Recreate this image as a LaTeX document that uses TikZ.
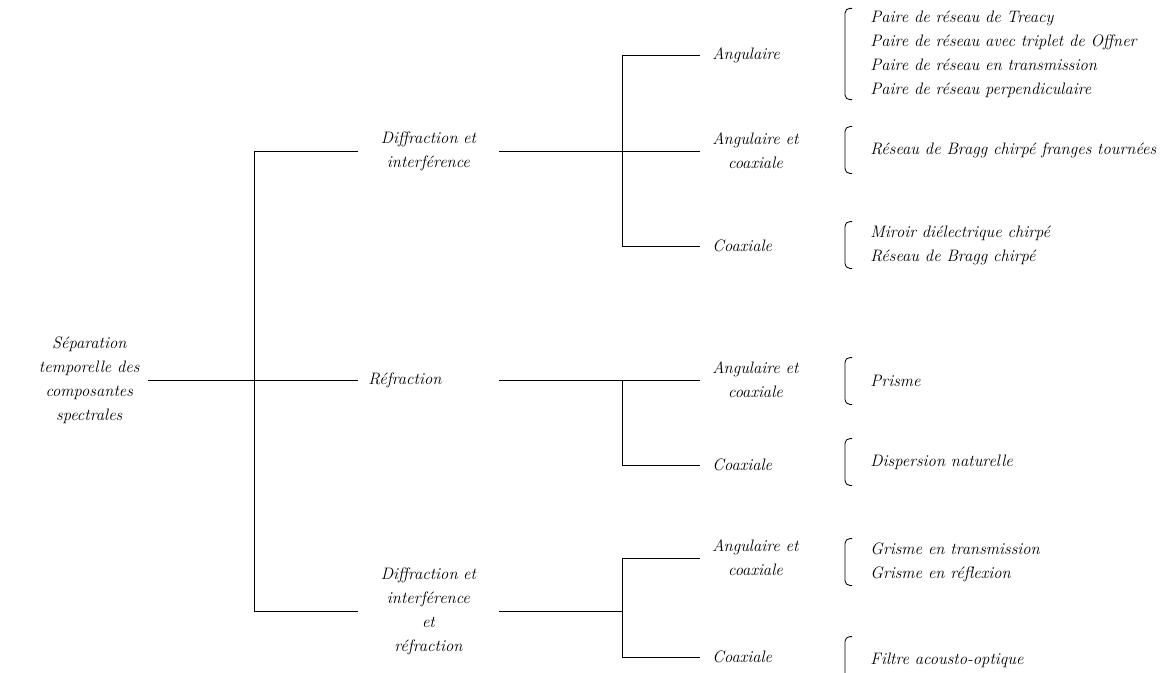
\documentclass[tikz,border=0pt]{standalone}
\usepackage{fontspec}
\usetikzlibrary{positioning}

\tikzset{
  txt/.style={font=\fontsize{11.8}{17}\selectfont\itshape},
  root/.style={txt, anchor=east, align=center, inner xsep=0.2cm, inner ysep=0pt},
  family/.style={txt, anchor=west, text width=3cm, align=center, inner xsep=0.25cm, inner ysep=0pt},
  kind/.style={txt, anchor=west, align=center, inner xsep=0.3cm, inner ysep=0pt},
  device/.style={txt, anchor=west, align=left, inner xsep=0.625cm, inner ysep=0.05cm, minimum height=1.15cm},
}
\newcommand{\sidebrace}[1]{%
  \draw[rounded corners=0.12cm] ([xshift=0.18cm]#1.north west) -- (#1.north west)
    -- (#1.south west) -- ([xshift=0.18cm]#1.south west);}

\begin{document}
\begin{tikzpicture}[x=0.025cm, y=-0.025cm, line width=0.6pt]

  \useasboundingbox (0,0) rectangle (1169,672);

  \node (S) [root] at (148,380) {Séparation\\temporelle des\\composantes\\spectrales};

  \node (D)  [family] at (358,151) {Diffraction et\\interférence};
  \node (R)  [family, align=left] at (358,380) {Réfraction};
  \node (DR) [family] at (358,611) {Diffraction et\\interférence\\et\\réfraction};

  \coordinate (t) at (254,380);
  \coordinate (cD) at (622,151);
  \coordinate (cR) at (622,380);
  \coordinate (cDR) at (622,611);

  \node (Da)  [kind] at (700,55)  {Angulaire};
  \node (Dac) [kind] at (700,151) {Angulaire et\\coaxiale};
  \node (Dc)  [kind] at (700,246) {Coaxiale};
  \node (Rac) [kind] at (700,380) {Angulaire et\\coaxiale};
  \node (Rc)  [kind] at (700,465) {Coaxiale};
  \node (DRac) [kind] at (700,558) {Angulaire et\\coaxiale};
  \node (DRc)  [kind] at (700,657) {Coaxiale};

  \node (Da1)  [device] at (845,54)  {Paire de réseau de Treacy\\Paire de réseau avec triplet de Offner\\Paire de réseau en transmission\\Paire de réseau perpendiculaire};
  \node (Dac1) [device] at (845,150) {Réseau de Bragg chirpé franges tournées};
  \node (Dc1)  [device] at (845,245) {Miroir diélectrique chirpé\\Réseau de Bragg chirpé};
  \node (Rac1) [device] at (845,381) {Prisme};
  \node (Rc1)  [device] at (845,462) {Dispersion naturelle};
  \node (DRac1) [device] at (845,562) {Grisme en transmission\\Grisme en réflexion};
  \node (DRc1)  [device] at (845,660) {Filtre acousto-optique};

  \draw (S) -- (R);
  \draw (t) |- (D);
  \draw (t) |- (DR);

  \draw (D) -- (Dac);
  \draw (cD) |- (Da);
  \draw (cD) |- (Dc);

  \draw (R) -- (Rac);
  \draw (cR) |- (Rc);

  \draw (DR) -- (cDR);
  \draw (cDR) |- (DRac);
  \draw (cDR) |- (DRc);

  \sidebrace{Da1}
  \sidebrace{Dac1}
  \sidebrace{Dc1}
  \sidebrace{Rac1}
  \sidebrace{Rc1}
  \sidebrace{DRac1}
  \sidebrace{DRc1}

\end{tikzpicture}
\end{document}
